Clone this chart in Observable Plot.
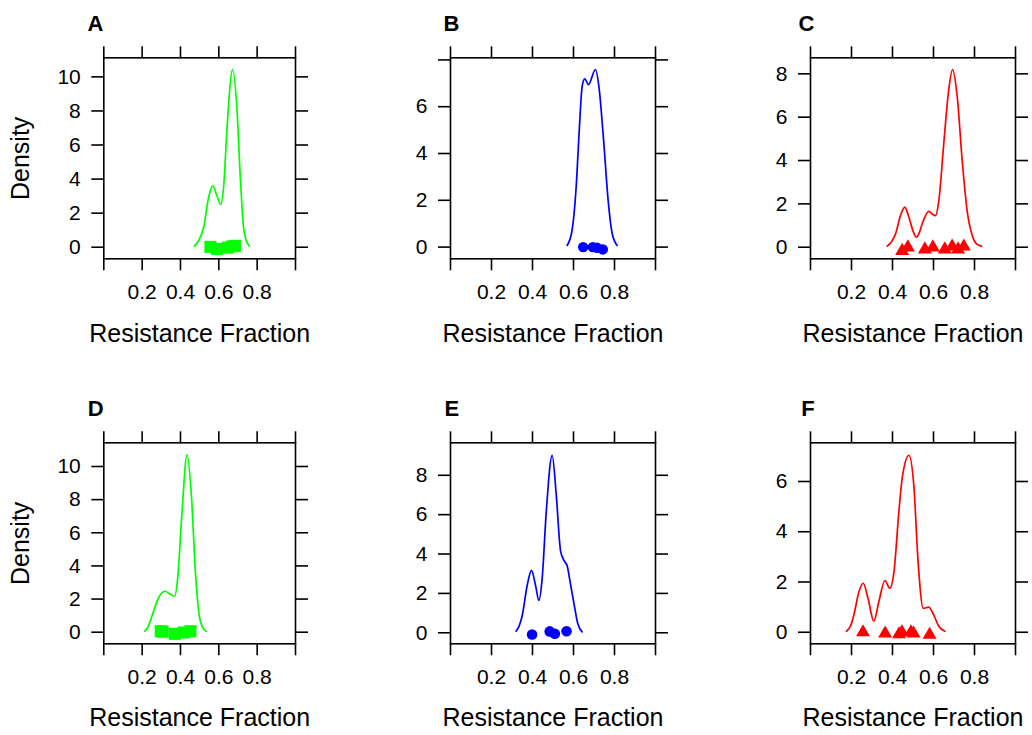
<!DOCTYPE html>
<html><head><meta charset="utf-8">
<script src="https://cdn.jsdelivr.net/npm/d3@7"></script>
<script src="https://cdn.jsdelivr.net/npm/@observablehq/plot@0.6"></script>
<style>
html,body{margin:0;padding:0;background:#fff;}
#chart{position:relative;width:1032px;height:735px;overflow:hidden;background:#fff;}
#chart svg{position:absolute;}
</style></head><body><div id="chart"></div>
<script>
// ---- Text ----
const panelLetters = ["A", "B", "C", "D", "E", "F"];
const xLabel = "Resistance Fraction";
const yLabel = "Density";
const xTicks = [0, 0.2, 0.4, 0.6, 0.8, 1.0];
const xTickLabels = ["", "0.2", "0.4", "0.6", "0.8", ""];

// ---- Panel A (green squares) ----
const curveAx = [0.472, 0.495, 0.521, 0.547, 0.568, 0.590, 0.609, 0.625, 0.643, 0.672, 0.695, 0.712, 0.729, 0.743, 0.760];
const curveAy = [0.06, 0.39, 1.17, 2.94, 3.60, 3.03, 2.51, 3.52, 7.05, 10.42, 8.03, 4.11, 1.17, 0.39, 0.06];
const pointsAx = [0.556, 0.590, 0.648, 0.670, 0.684];
const pointsAy = [0.02, -0.10, -0.02, 0.05, 0.08];
const yTicksA = [0, 2, 4, 6, 8, 10];
const yTickLabelsA = ["0", "2", "4", "6", "8", "10"];

// ---- Panel B (blue circles) ----
const curveBx = [0.569, 0.593, 0.613, 0.629, 0.642, 0.655, 0.673, 0.707, 0.724, 0.748, 0.769, 0.789, 0.813];
const curveBy = [0.07, 0.72, 2.57, 5.14, 6.86, 7.19, 6.94, 7.59, 6.86, 4.43, 2.00, 0.57, 0.07];
const pointsBx = [0.647, 0.694, 0.715, 0.743];
const pointsBy = [0.00, 0.00, -0.03, -0.10];
const yTicksB = [0, 2, 4, 6, 8];
const yTickLabelsB = ["0", "2", "4", "6", ""];

// ---- Panel C (red triangles) ----
const curveCx = [0.374, 0.395, 0.415, 0.439, 0.460, 0.480, 0.500, 0.516, 0.530, 0.545, 0.577, 0.598, 0.610, 0.626, 0.650, 0.672, 0.693, 0.716, 0.740, 0.764, 0.789, 0.810, 0.834];
const curveCy = [0.05, 0.25, 0.62, 1.46, 1.85, 1.38, 0.75, 0.46, 0.65, 1.08, 1.65, 1.50, 1.46, 2.15, 4.77, 7.08, 8.19, 6.92, 4.00, 1.69, 0.54, 0.15, 0.05];
const pointsCx = [0.447, 0.475, 0.558, 0.597, 0.655, 0.691, 0.720, 0.748];
const pointsCy = [-0.17, -0.01, -0.10, -0.01, -0.10, 0.03, -0.10, 0.03];
const yTicksC = [0, 2, 4, 6, 8];
const yTickLabelsC = ["0", "2", "4", "6", "8"];

// ---- Panel D (green squares) ----
const curveDx = [0.214, 0.232, 0.252, 0.287, 0.318, 0.345, 0.370, 0.385, 0.408, 0.434, 0.457, 0.478, 0.498, 0.515, 0.533];
const curveDy = [0.06, 0.35, 1.00, 2.11, 2.47, 2.30, 2.17, 3.22, 7.24, 10.70, 8.25, 3.62, 1.00, 0.30, 0.06];
const pointsDx = [0.297, 0.307, 0.370, 0.417, 0.452];
const pointsDy = [0.06, 0.03, -0.10, -0.02, 0.06];
const yTicksD = [0, 2, 4, 6, 8, 10];
const yTickLabelsD = ["0", "2", "4", "6", "8", "10"];

// ---- Panel E (blue circles) ----
const curveEx = [0.320, 0.335, 0.350, 0.374, 0.395, 0.415, 0.431, 0.447, 0.467, 0.496, 0.516, 0.537, 0.555, 0.569, 0.585, 0.602, 0.620, 0.642];
const curveEy = [0.08, 0.35, 0.88, 2.40, 3.17, 2.40, 1.64, 2.74, 6.13, 9.01, 6.98, 4.15, 3.65, 3.40, 2.50, 1.50, 0.50, 0.05];
const pointsEx = [0.398, 0.484, 0.509, 0.566];
const pointsEy = [-0.09, 0.07, -0.05, 0.08];
const yTicksE = [0, 2, 4, 6, 8];
const yTickLabelsE = ["0", "2", "4", "6", "8"];

// ---- Panel F (red triangles) ----
const curveFx = [0.176, 0.195, 0.211, 0.236, 0.257, 0.281, 0.309, 0.333, 0.363, 0.387, 0.407, 0.431, 0.447, 0.480, 0.504, 0.525, 0.550, 0.577, 0.602, 0.625, 0.655];
const curveFy = [0.04, 0.25, 0.67, 1.60, 1.95, 1.33, 0.44, 1.20, 2.06, 1.75, 2.39, 4.78, 6.11, 7.04, 5.84, 2.79, 0.95, 1.00, 0.67, 0.25, 0.04];
const pointsFx = [0.256, 0.364, 0.432, 0.446, 0.490, 0.503, 0.581];
const pointsFy = [0.00, -0.05, -0.08, 0.00, 0.00, -0.05, -0.10];
const yTicksF = [0, 2, 4, 6];
const yTickLabelsF = ["0", "2", "4", "6"];

// ---- Layout / style ----
const GREEN = "#00ff00", BLUE = "#0000ff", RED = "#ff0000";
const FONT = '"Liberation Sans", Arial, Helvetica, sans-serif';
const TICK_FONT = 21;

const panels = [
  {letter: panelLetters[0], cx: curveAx, cy: curveAy, px: pointsAx, py: pointsAy, yt: yTicksA, yl: yTickLabelsA, ydom: [-0.68, 11.12],
   color: GREEN, symbol: "square", r: 6.8, left: 0, top: 0, w: 344, h: 385, ml: 103.3, mr: 49, mt: 57.3, mb: 126.7, ylab: true, ldx: -16.3, xdy: 83.5},
  {letter: panelLetters[1], cx: curveBx, cy: curveBy, px: pointsBx, py: pointsBy, yt: yTicksB, yl: yTickLabelsB, ydom: [-0.50, 8.09],
   color: BLUE, symbol: "circle", r: 5.2, left: 344, top: 0, w: 344, h: 385, ml: 106, mr: 33, mt: 57.3, mb: 126.7, ylab: false, ldx: -7, xdy: 83.5},
  {letter: panelLetters[2], cx: curveCx, cy: curveCy, px: pointsCx, py: pointsCy, yt: yTicksC, yl: yTickLabelsC, ydom: [-0.535, 8.74],
   color: RED, symbol: "triangle", r: 5.2, left: 688, top: 0, w: 344, h: 385, ml: 122, mr: 17, mt: 57.3, mb: 126.7, ylab: false, ldx: -12, xdy: 83.5},
  {letter: panelLetters[3], cx: curveDx, cy: curveDy, px: pointsDx, py: pointsDy, yt: yTicksD, yl: yTickLabelsD, ydom: [-0.70, 11.43],
   color: GREEN, symbol: "square", r: 6.8, left: 0, top: 385, w: 344, h: 350, ml: 103.3, mr: 49, mt: 57.3, mb: 91.7, ylab: true, ldx: -16, xdy: 81.7},
  {letter: panelLetters[4], cx: curveEx, cy: curveEy, px: pointsEx, py: pointsEy, yt: yTicksE, yl: yTickLabelsE, ydom: [-0.56, 9.65],
   color: BLUE, symbol: "circle", r: 5.3, left: 344, top: 385, w: 344, h: 350, ml: 106, mr: 33, mt: 57.3, mb: 91.7, ylab: false, ldx: -6, xdy: 81.7},
  {letter: panelLetters[5], cx: curveFx, cy: curveFy, px: pointsFx, py: pointsFy, yt: yTicksF, yl: yTickLabelsF, ydom: [-0.46, 7.54],
   color: RED, symbol: "triangle", r: 5.2, left: 688, top: 385, w: 344, h: 350, ml: 122, mr: 17, mt: 57.3, mb: 91.7, ylab: false, ldx: -9.3, xdy: 81.7}
];

const chart = document.getElementById("chart");
for (const p of panels) {
  const curve = p.cx.map((x, i) => ({x, y: p.cy[i]}));
  const pts = p.px.map((x, i) => ({x, y: p.py[i]}));
  const marks = [
    Plot.line(curve, {x: "x", y: "y", stroke: p.color, strokeWidth: 1.7, curve: "monotone-x"}),
    Plot.dot(pts, {x: "x", y: "y", fill: p.color, stroke: "none", symbol: p.symbol, r: p.r}),
    Plot.frame({stroke: "black", strokeWidth: 1.6}),
    Plot.axisX({anchor: "bottom", ticks: xTicks, tickFormat: d => xTickLabels[xTicks.indexOf(d)], tickSize: 12, tickPadding: 13, strokeWidth: 1.6, stroke: "black", fill: "black", fontSize: TICK_FONT, label: null}),
    Plot.axisX({anchor: "top", ticks: xTicks, tickFormat: () => "", tickSize: 12, strokeWidth: 1.6, stroke: "black", label: null}),
    Plot.axisY({anchor: "left", ticks: p.yt, tickFormat: d => p.yl[p.yt.indexOf(d)], tickSize: 12, tickPadding: 11, strokeWidth: 1.6, stroke: "black", fill: "black", fontSize: TICK_FONT, label: null}),
    Plot.axisY({anchor: "right", ticks: p.yt, tickFormat: () => "", tickSize: 12, strokeWidth: 1.6, stroke: "black", label: null}),
    Plot.text([p.letter], {text: d => d, frameAnchor: "top-left", dx: p.ldx, dy: -27.3, textAnchor: "start", lineAnchor: "bottom", fontWeight: "bold", fontSize: 22, fill: "black"}),
    Plot.text([xLabel], {text: d => d, frameAnchor: "bottom", dy: p.xdy, lineAnchor: "bottom", textAnchor: "middle", fontSize: 25, fill: "black"})
  ];
  if (p.ylab) {
    marks.push(Plot.text([yLabel], {text: d => d, frameAnchor: "left", rotate: -90, dx: -74.8, lineAnchor: "bottom", textAnchor: "middle", fontSize: 25, fill: "black"}));
  }
  const svg = Plot.plot({
    width: p.w, height: p.h,
    marginLeft: p.ml, marginRight: p.mr, marginTop: p.mt, marginBottom: p.mb,
    x: {domain: [0, 1]},
    y: {domain: p.ydom},
    style: {fontFamily: FONT, fontSize: "21px", color: "black", background: "transparent", overflow: "visible"},
    marks
  });
  svg.style.left = p.left + "px";
  svg.style.top = p.top + "px";
  chart.appendChild(svg);
}
</script>
</body></html>
